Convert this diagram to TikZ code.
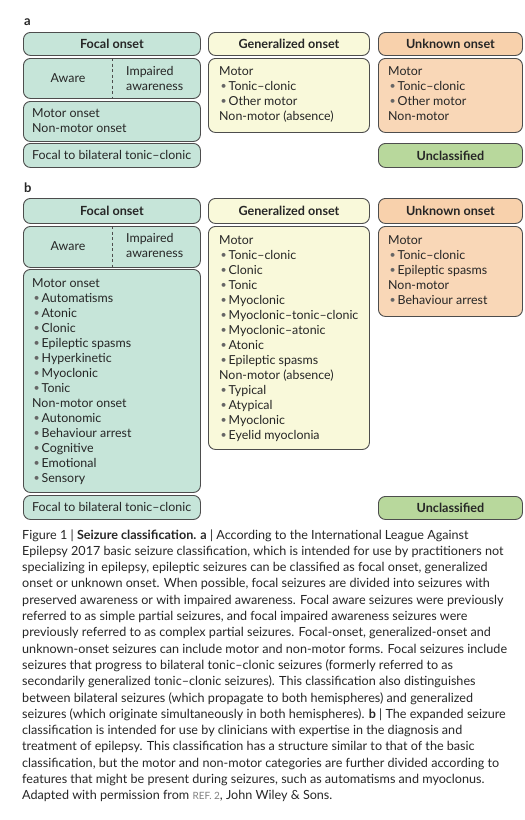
\documentclass[tikz,border=0pt]{standalone}
\usepackage{fontspec}
\usepackage{graphicx}
\setmainfont{Lato}
\definecolor{focal}{HTML}{C6E5D9}
\definecolor{gen}{HTML}{F9F9DA}
\definecolor{unk}{HTML}{F9D7B7}
\definecolor{unkh}{HTML}{F8D1AC}
\definecolor{uncl}{HTML}{B8D89C}
\definecolor{edge}{HTML}{4D4D4D}
\definecolor{txtc}{HTML}{262626}
\newcommand{\bl}{\makebox[9.5pt][l]{\hspace{1.5pt}\textcolor{black!60}{\raisebox{0.3pt}{\scalebox{0.85}{•}}}}}
\newcommand{\rbx}[6]{\node[rbox, fill=#6, minimum width={#4-#2}, minimum height={#5-#3}] (#1) at (#2,#3) {};}
\begin{document}
\begin{tikzpicture}[x=1pt,y=-1pt,
  rbox/.style={draw=edge, line width=0.9pt, rounded corners=7pt, anchor=north west, inner sep=0pt},
  hdr/.style={font=\fontsize{12.6}{14}\selectfont\bfseries, text=txtc, inner sep=0pt},
  txt/.style={font=\fontsize{12.4}{15}\selectfont, inner sep=0pt, anchor=base west, text=txtc},
  captxt/.style={font=\fontsize{12.6}{15}\selectfont, inner sep=0pt, anchor=base west, text=txtc},
  lbl/.style={font=\fontsize{13}{14}\selectfont\bfseries, inner sep=0pt, anchor=base west, text=txtc},
  dline/.style={draw=edge, line width=0.8pt, dash pattern=on 3pt off 2.5pt}]
\useasboundingbox (0,0) rectangle (525,820);

% ---------- panel a ----------
\node[lbl] (la) at (24,25) {a};
\rbx{fha}{23}{32}{200}{55}{focal}
\rbx{awa}{23}{58}{200}{98}{focal}
\rbx{moa}{23}{101}{200}{141}{focal}
\rbx{fba}{23}{143}{200}{167}{focal}
\rbx{gha}{208}{32}{369}{55}{gen}
\rbx{gba}{208}{58}{369}{132}{gen}
\rbx{uha}{378}{32}{522}{55}{unkh}
\rbx{uba}{378}{58}{522}{132}{unk}
\rbx{uca}{378}{143}{522}{167}{uncl}

\node[hdr] (fhat) at (fha.center) {Focal onset};
\node[hdr] (ghat) at (gha.center) {Generalized onset};
\node[hdr] (uhat) at (uha.center) {Unknown onset};
\node[hdr] (ucat) at (uca.center) {Unclassified};

\coordinate (da1) at (112,58);
\coordinate (da2) at (112,98);
\draw[dline] (da1) -- (da2);
\node[txt, anchor=base] (awat) at (68,82) {Aware};
\node[txt] (ima1) at (126,75) {Impaired};
\node[txt] (ima2) at (126,90) {awareness};

\node[txt] (moa1) at (32,117) {Motor onset};
\node[txt] (moa2) at (32,132) {Non-motor onset};
\node[txt] (fbat) at (32,159) {Focal to bilateral tonic–clonic};

\foreach \t [count=\i from 0] in {Motor,\bl Tonic–clonic,\bl Other motor,Non-motor (absence)}
  \node[txt] (ga\i) at (219,{75+15*\i}) {\t};
\foreach \t [count=\i from 0] in {Motor,\bl Tonic–clonic,\bl Other motor,Non-motor}
  \node[txt] (ua\i) at (388,{75+15*\i}) {\t};

% ---------- panel b ----------
\node[lbl] (lb) at (24,192) {b};
\rbx{fhb}{23}{198}{200}{223}{focal}
\rbx{awb}{23}{226}{200}{267}{focal}
\rbx{mob}{23}{269}{200}{492}{focal}
\rbx{fbb}{23}{495}{200}{519}{focal}
\rbx{ghb}{208}{198}{369}{223}{gen}
\rbx{gbb}{208}{226}{369}{449}{gen}
\rbx{uhb}{378}{198}{522}{223}{unkh}
\rbx{ubb}{378}{226}{522}{316}{unk}
\rbx{ucb}{378}{496}{522}{519}{uncl}

\node[hdr] (fhbt) at (fhb.center) {Focal onset};
\node[hdr] (ghbt) at (ghb.center) {Generalized onset};
\node[hdr] (uhbt) at (uhb.center) {Unknown onset};
\node[hdr] (ucbt) at (ucb.center) {Unclassified};

\coordinate (db1) at (112,226);
\coordinate (db2) at (112,267);
\draw[dline] (db1) -- (db2);
\node[txt, anchor=base] (awbt) at (68,250) {Aware};
\node[txt] (imb1) at (126,242) {Impaired};
\node[txt] (imb2) at (126,257) {awareness};

\foreach \t [count=\i from 0] in {Motor onset,\bl Automatisms,\bl Atonic,\bl Clonic,\bl Epileptic spasms,\bl Hyperkinetic,\bl Myoclonic,\bl Tonic,Non-motor onset,\bl Autonomic,\bl Behaviour arrest,\bl Cognitive,\bl Emotional,\bl Sensory}
  \node[txt] (fb\i) at (32,{287+15*\i}) {\t};
\foreach \t [count=\i from 0] in {Motor,\bl Tonic–clonic,\bl Clonic,\bl Tonic,\bl Myoclonic,\bl Myoclonic–tonic–clonic,\bl Myoclonic–atonic,\bl Atonic,\bl Epileptic spasms,Non-motor (absence),\bl Typical,\bl Atypical,\bl Myoclonic,\bl Eyelid myoclonia}
  \node[txt] (gb\i) at (219,{244+15*\i}) {\t};
\foreach \t [count=\i from 0] in {Motor,\bl Tonic–clonic,\bl Epileptic spasms,Non-motor,\bl Behaviour arrest}
  \node[txt] (ub\i) at (388,{244+15*\i}) {\t};
\node[txt] (fbbt) at (32,511) {Focal to bilateral tonic–clonic};

% ---------- caption ----------
\foreach \t [count=\i from 0] in {
 {Figure 1 | \textbf{Seizure classification. a} | According to the International League Against},
 {Epilepsy 2017 basic seizure classification, which is intended for use by practitioners not},
 {specializing in epilepsy, epileptic seizures can be classified as focal onset, generalized},
 {onset or unknown onset. When possible, focal seizures are divided into seizures with},
 {preserved awareness or with impaired awareness. Focal aware seizures were previously},
 {referred to as simple partial seizures, and focal impaired awareness seizures were},
 {previously referred to as complex partial seizures. Focal-onset, generalized-onset and},
 {unknown-onset seizures can include motor and non-motor forms. Focal seizures include},
 {seizures that progress to bilateral tonic–clonic seizures (formerly referred to as},
 {secondarily generalized tonic–clonic seizures). This classification also distinguishes},
 {between bilateral seizures (which propagate to both hemispheres) and generalized},
 {seizures (which originate simultaneously in both hemispheres). \textbf{b} | The expanded seizure},
 {classification is intended for use by clinicians with expertise in the diagnosis and},
 {treatment of epilepsy. This classification has a structure similar to that of the basic},
 {classification, but the motor and non-motor categories are further divided according to},
 {features that might be present during seizures, such as automatisms and myoclonus.},
 {Adapted with permission from {\color{gray}\fontsize{10}{10}\selectfont REF. 2}, John Wiley \& Sons.}}
  \node[captxt] (cap\i) at (22,{539+16.3*\i}) {\t};
\end{tikzpicture}
\end{document}
